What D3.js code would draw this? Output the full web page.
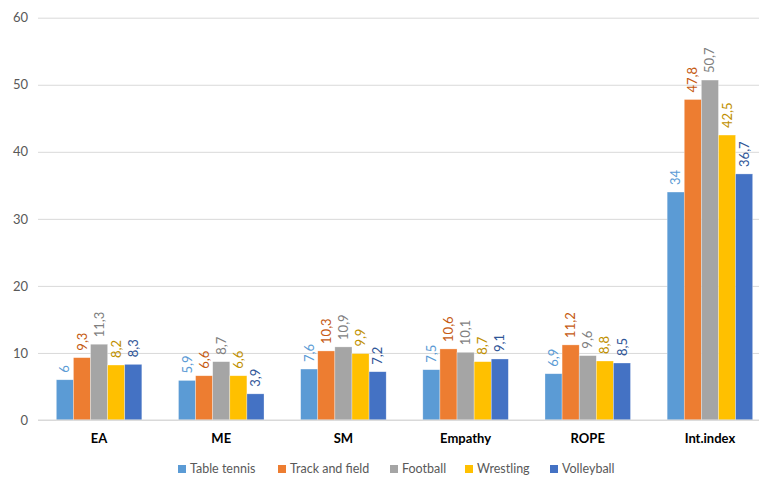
<!DOCTYPE html>
<html>
<head>
<meta charset="utf-8">
<script src="https://cdn.jsdelivr.net/npm/d3@7"></script>
<style>
  body { margin: 0; background: #fff; }
  svg { display: block; font-family: Lato, "Open Sans", sans-serif; }
</style>
</head>
<body>
<div id="chart"></div>
<script>
const categories = ["EA", "ME", "SM", "Empathy", "ROPE", "Int.index"];
const seriesNames = ["Table tennis", "Track and field", "Football", "Wrestling", "Volleyball"];
const tableTennis = [6, 5.9, 7.6, 7.5, 6.9, 34];
const trackAndField = [9.3, 6.6, 10.3, 10.6, 11.2, 47.8];
const football = [11.3, 8.7, 10.9, 10.1, 9.6, 50.7];
const wrestling = [8.2, 6.6, 9.9, 8.7, 8.8, 42.5];
const volleyball = [8.3, 3.9, 7.2, 9.1, 8.5, 36.7];
const yTicks = [0, 10, 20, 30, 40, 50, 60];

const seriesValues = [tableTennis, trackAndField, football, wrestling, volleyball];
const barColors = ["#5B9BD5", "#ED7D31", "#A5A5A5", "#FFC000", "#4472C4"];
const labelColors = ["#5B9BD5", "#C55A11", "#7F7F7F", "#BF9000", "#2F5597"];

const width = 759, height = 478;
const marginLeft = 38, plotRight = 771;
const yTop = 17.7, yBottom = 420;

const svg = d3.select("#chart").append("svg")
  .attr("width", width)
  .attr("height", height)
  .attr("viewBox", [0, 0, width, height]);

const x0 = d3.scaleBand().domain(categories).range([marginLeft, plotRight]).paddingInner(0.3).paddingOuter(0.15);
const x1 = d3.scaleBand().domain(seriesNames).range([0, x0.bandwidth()]);
const y = d3.scaleLinear().domain([0, 60]).range([yBottom, yTop]);

// gridlines + y labels
const yAxis = d3.axisLeft(y).tickValues(yTicks).tickSize(0).tickPadding(10);
svg.append("g")
  .attr("transform", `translate(${marginLeft},0)`)
  .call(yAxis)
  .call(g => g.select(".domain").remove())
  .call(g => g.selectAll(".tick text").attr("fill", "#595959").attr("font-size", 13).attr("font-family", "Lato, sans-serif"))
  .call(g => g.selectAll(".tick line").clone()
    .attr("x2", plotRight - marginLeft)
    .attr("stroke", "#D9D9D9")
    .attr("stroke-width", 1));

// bars
const groups = svg.append("g").selectAll("g")
  .data(categories)
  .join("g")
  .attr("transform", d => `translate(${x0(d)},0)`);

groups.selectAll("rect")
  .data((c, ci) => seriesNames.map((s, si) => ({ s, si, v: seriesValues[si][ci] })))
  .join("rect")
  .attr("x", d => x1(d.s))
  .attr("y", d => y(d.v))
  .attr("width", x1.bandwidth())
  .attr("height", d => y(0) - y(d.v))
  .attr("fill", d => barColors[d.si])
  .attr("stroke", "#fff")
  .attr("stroke-opacity", 0.5)
  .attr("stroke-width", 0.6);

// value labels, rotated
groups.selectAll("text.val")
  .data((c, ci) => seriesNames.map((s, si) => ({ s, si, v: seriesValues[si][ci] })))
  .join("text")
  .attr("class", "val")
  .attr("transform", d => `translate(${x1(d.s) + x1.bandwidth() / 2},${y(d.v) - 7}) rotate(-90)`)
  .attr("dy", "0.35em")
  .attr("text-anchor", "start")
  .attr("font-size", 13)
  .attr("fill", d => labelColors[d.si])
  .text(d => String(d.v).replace(".", ","));

// baseline
svg.append("line")
  .attr("x1", marginLeft).attr("x2", plotRight)
  .attr("y1", y(0)).attr("y2", y(0))
  .attr("stroke", "#D9D9D9");

// category labels
svg.append("g").selectAll("text")
  .data(categories)
  .join("text")
  .attr("x", d => x0(d) + x0.bandwidth() / 2)
  .attr("y", 443)
  .attr("text-anchor", "middle")
  .attr("font-size", 13)
  .attr("font-weight", "bold")
  .attr("fill", "#000")
  .text(d => d);

// legend
const legendX = [178, 278, 390, 465, 550];
const legend = svg.append("g").selectAll("g")
  .data(seriesNames)
  .join("g")
  .attr("transform", (d, i) => `translate(${legendX[i]},469)`);
legend.append("rect")
  .attr("x", 0).attr("y", -4)
  .attr("width", 8).attr("height", 8)
  .attr("fill", (d, i) => barColors[i]);
legend.append("text")
  .attr("x", 12)
  .attr("dy", "0.35em")
  .attr("font-size", 12.5)
  .attr("fill", "#595959")
  .text(d => d);
</script>
</body>
</html>
